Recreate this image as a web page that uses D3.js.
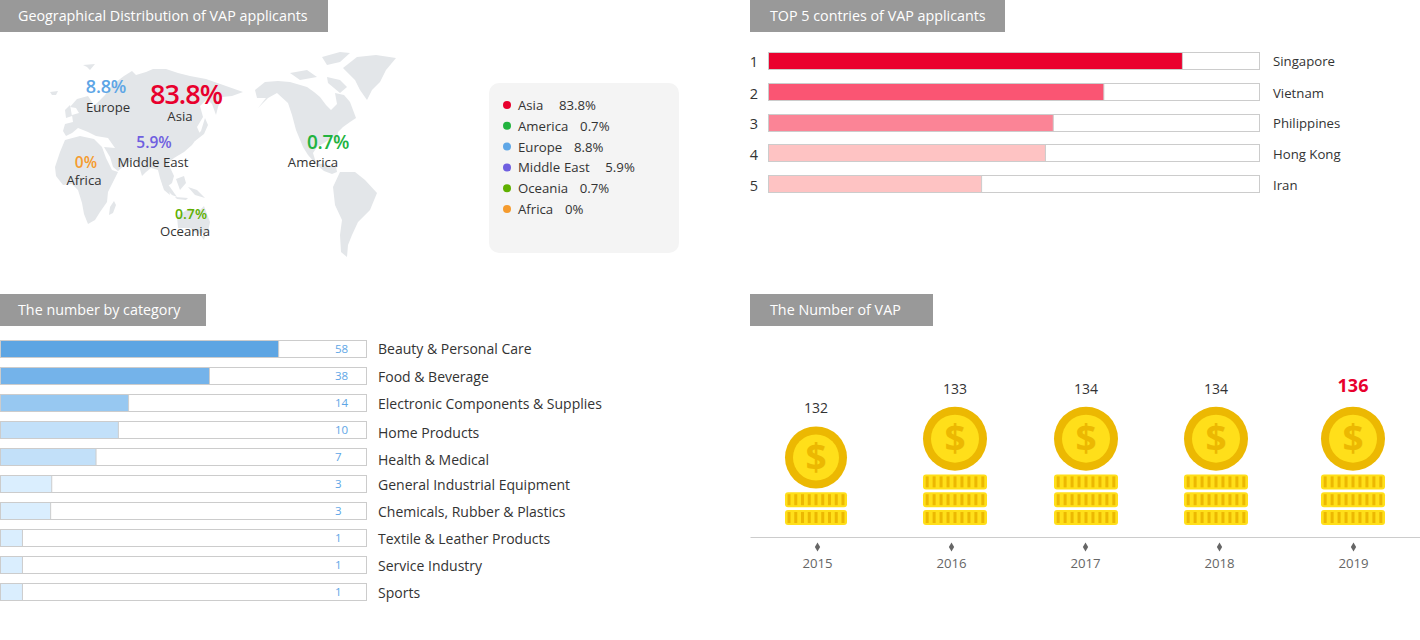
<!DOCTYPE html>
<html>
<head>
<meta charset="utf-8">
<title>VAP applicants</title>
<script src="https://cdn.jsdelivr.net/npm/d3@7"></script>
<style>
  html, body { margin: 0; padding: 0; background: #fff; }
  svg { display: block; }
  text { font-family: "Open Sans", "Noto Sans", sans-serif; fill: #333; }
</style>
</head>
<body>
<div id="chart-area"></div>
<script>
const WIDTH = 1420
const HEIGHT = 640

// section headings
const panelTitles = ["Geographical Distribution of VAP applicants", "TOP 5 contries of VAP applicants", "The number by category", "The Number of VAP"]

// regions
const regions = ["Asia", "America", "Europe", "Middle East", "Oceania", "Africa"]
const regionShares = [83.8, 0.7, 8.8, 5.9, 0.7, 0]
const regionColours = ["#e8002d", "#22b33f", "#5ea6e6", "#6f5fe0", "#5fb000", "#f59b2e"]
const legendGaps = [4, 3, 3, 4, 3, 3]

// top 5 countries, bar length in percent of the track
const countries = ["Singapore", "Vietnam", "Philippines", "Hong Kong", "Iran"]
const countryBars = [84.3, 68.3, 58, 56.4, 43.4]
const countryColours = ["#ea002e", "#fa5573", "#fb8496", "#fec3c3", "#fec3c3"]

// categories, the bars in the picture are not proportional to the counts
const categories = ["Beauty & Personal Care", "Food & Beverage", "Electronic Components & Supplies", "Home Products", "Health & Medical", "General Industrial Equipment", "Chemicals, Rubber & Plastics", "Textile & Leather Products", "Service Industry", "Sports"]
const categoryCounts = [58, 38, 14, 10, 7, 3, 3, 1, 1, 1]
const categoryBars = [76, 57.1, 35, 32.2, 26.1, 14, 13.7, 6, 6, 6]
const categoryColours = ["#5da5e3", "#74b3ea", "#97c8f1", "#c2e0f9", "#c2e0f9", "#daeefe", "#daeefe", "#daeefe", "#daeefe", "#daeefe"]

// yearly number of VAP
const years = ["2015", "2016", "2017", "2018", "2019"]
const yearCounts = [132, 133, 134, 134, 136]
const yearStacks = [2, 3, 3, 3, 3]

// world map outlines
const mapOutlines = [
  // Eurasia
  [[63,131],[65,124],[73,122],[72,115],[79,113],[76,108],[70,107],[77,99],[88,96],[92,102],[88,107],[96,104],[105,95],[112,85],[124,76],[132,71],[136,75],[146,72],[153,69],[166,69],[178,73],[190,76],[206,79],[226,86],[243,92],[232,96],[222,97],[218,107],[216,115],[212,104],[207,99],[200,106],[203,117],[197,127],[200,134],[192,145],[184,152],[174,158],[168,163],[174,176],[172,183],[168,186],[170,195],[164,190],[160,178],[158,170],[151,168],[146,172],[142,176],[139,166],[133,160],[126,164],[118,171],[113,167],[110,157],[104,147],[115,148],[108,138],[96,136],[88,132],[78,128],[72,133],[66,136]],
  // Africa
  [[65,140],[80,136],[94,139],[102,147],[106,158],[112,170],[118,172],[112,184],[108,192],[107,202],[100,212],[95,220],[88,224],[84,214],[82,203],[78,190],[72,184],[63,185],[56,176],[55,167],[60,152]],
  // Madagascar, Sumatra, Indonesia
  [[114,201],[116,205],[113,213],[109,215],[110,207]],
  [[160,175],[170,187],[177,197],[172,195],[163,186]],
  [[176,179],[184,176],[186,183],[180,190]],
  [[188,187],[197,190],[205,198],[195,195]],
  [[175,197],[188,198],[186,200],[177,199]],
  // Japan
  [[205,118],[208,125],[204,134],[195,141],[193,139],[201,131]],
  // Australia
  [[177,216],[190,208],[198,212],[204,206],[210,222],[208,232],[198,234],[190,228],[178,228]],
  [[201,236],[205,236],[204,240]],
  // Iceland, Svalbard, UK
  [[50,92],[58,91],[56,95],[52,95]],
  [[83,65],[95,64],[90,70],[87,67]],
  [[65,110],[70,105],[72,116],[66,118]],
  // North America
  [[255,90],[265,82],[278,81],[290,82],[307,87],[314,92],[320,97],[326,105],[331,110],[337,104],[335,93],[344,95],[350,102],[356,118],[350,122],[343,127],[338,132],[337,143],[333,137],[324,143],[317,147],[313,153],[316,163],[328,165],[336,166],[337,172],[332,174],[324,171],[316,164],[308,155],[303,147],[296,130],[292,115],[288,103],[277,93],[268,98],[258,108],[266,98],[257,98]],
  // South America
  [[333,187],[340,172],[355,172],[365,180],[377,193],[370,210],[358,222],[352,235],[348,245],[347,257],[341,252],[340,235],[342,220],[335,205]],
  // Greenland, Arctic islands
  [[343,68],[357,57],[376,55],[396,58],[386,70],[380,82],[372,90],[367,100],[360,90],[355,80]],
  [[322,57],[340,52],[350,53],[340,62],[327,65]],
  [[290,73],[307,70],[317,77],[300,80]],
  [[327,77],[340,80],[347,87],[340,93],[328,83]]
]

// layout lookups, they only say where things sit in the picture
const regionNameX = d3.scaleOrdinal(regions, [180, 313, 108, 153, 185, 84])
const regionNameY = d3.scaleOrdinal(regions, [121, 167, 112, 167, 236, 185])
const regionValueX = d3.scaleOrdinal(regions, [186, 328, 106, 154, 191, 86])
const regionValueY = d3.scaleOrdinal(regions, [103.5, 149, 93, 148, 219, 168])
const regionValueSize = d3.scaleOrdinal(regions, [27, 19, 18, 15.5, 14, 15.5])
const regionValueTrack = d3.scaleOrdinal(regions, [-1, -0.3, -0.2, 0, 0, 0])
const categoryLabelY = d3.scaleOrdinal(categories, [354, 382, 409, 438, 465, 490, 517, 544, 571, 598])
const countryLabelY = d3.scaleOrdinal(countries, [66, 98, 128, 159, 190])
const coinX = d3.scaleOrdinal(years, [816, 955, 1086, 1216, 1353])

var svg = d3.select("#chart-area").append("svg")
    .attr("width", WIDTH)
    .attr("height", HEIGHT)

//headings
var headings = [{x: 0, y: 0, w: 328, pad: 18}, {x: 750, y: 0, w: 255, pad: 20}, {x: 0, y: 294, w: 206, pad: 18}, {x: 750, y: 294, w: 183, pad: 20}]
headings.forEach(function(h, i){
    svg.append("rect")
        .attr("x", h.x).attr("y", h.y)
        .attr("width", h.w).attr("height", 32)
        .attr("fill", "#999")
    svg.append("text")
        .attr("x", h.x + h.pad).attr("y", h.y + 21)
        .attr("font-size", "14.3px")
        .style("fill", "#fff")
        .text(panelTitles[i])
})

//world map
var mapLine = d3.line().curve(d3.curveLinearClosed)
svg.append("g").selectAll("path").data(mapOutlines).enter().append("path")
    .attr("d", mapLine)
    .attr("fill", "#e3e6e9")

//labels on the map
var mapLabels = svg.append("g").selectAll("g").data(regions).enter().append("g")
mapLabels.append("text")
    .attr("x", function(d){ return regionValueX(d) })
    .attr("y", function(d){ return regionValueY(d) })
    .attr("text-anchor", "middle")
    .attr("font-weight", 600)
    .attr("font-size", function(d){ return regionValueSize(d) + "px" })
    .attr("letter-spacing", function(d){ return regionValueTrack(d) })
    .style("fill", function(d, i){ return regionColours[i] })
    .text(function(d, i){ return regionShares[i] + "%" })
mapLabels.append("text")
    .attr("x", function(d){ return regionNameX(d) })
    .attr("y", function(d){ return regionNameY(d) })
    .attr("text-anchor", "middle")
    .attr("font-size", "13.2px")
    .text(function(d){ return d })

//legend
svg.append("rect")
    .attr("x", 489).attr("y", 83)
    .attr("width", 190).attr("height", 170)
    .attr("rx", 10)
    .attr("fill", "#f4f4f4")
var legendY = d3.scalePoint().domain(regions).range([105, 209])
var legendRows = svg.append("g").selectAll("g").data(regions).enter().append("g")
    .attr("transform", function(d){ return "translate(0," + legendY(d) + ")" })
legendRows.append("circle")
    .attr("cx", 507)
    .attr("r", 4)
    .attr("fill", function(d, i){ return regionColours[i] })
legendRows.append("text")
    .attr("x", 518)
    .attr("y", 5)
    .attr("font-size", "13.2px")
    .attr("word-spacing", 0.5)
    .style("white-space", "pre")
    .text(function(d, i){ return d + " ".repeat(legendGaps[i]) + regionShares[i] + "%" })

//top 5 countries
var countryX = d3.scaleLinear().domain([0, 100]).range([768.5, 1259.5])
var countryY = d3.scalePoint().domain(countries).range([53, 176])
var countryRows = svg.append("g").selectAll("g").data(countries).enter().append("g")
countryRows.append("rect")
    .attr("x", countryX(0))
    .attr("y", function(d){ return Math.round(countryY(d)) - 0.5 })
    .attr("width", countryX(100) - countryX(0))
    .attr("height", 17)
    .attr("fill", "#fff")
    .attr("stroke", "#ccc")
countryRows.append("rect")
    .attr("x", countryX(0))
    .attr("y", function(d){ return Math.round(countryY(d)) - 0.5 })
    .attr("width", function(d, i){ return countryX(countryBars[i]) - countryX(0) })
    .attr("height", 17)
    .attr("fill", function(d, i){ return countryColours[i] })
    .attr("stroke", "#ccc")
countryRows.append("text")
    .attr("x", 754)
    .attr("y", function(d){ return countryLabelY(d) + 1 })
    .attr("text-anchor", "middle")
    .attr("font-size", "14.5px")
    .text(function(d, i){ return i + 1 })
countryRows.append("text")
    .attr("x", 1273)
    .attr("y", function(d){ return countryLabelY(d) })
    .attr("font-size", "13.2px")
    .text(function(d){ return d })

//categories
var categoryX = d3.scaleLinear().domain([0, 100]).range([0.5, 366.5])
var categoryY = d3.scalePoint().domain(categories).range([340.5, 583.5])
var categoryRows = svg.append("g").selectAll("g").data(categories).enter().append("g")
categoryRows.append("rect")
    .attr("x", categoryX(0))
    .attr("y", function(d){ return categoryY(d) })
    .attr("width", categoryX(100) - categoryX(0))
    .attr("height", 17)
    .attr("fill", "#fff")
    .attr("stroke", "#ccc")
categoryRows.append("rect")
    .attr("x", categoryX(0))
    .attr("y", function(d){ return categoryY(d) })
    .attr("width", function(d, i){ return categoryX(categoryBars[i]) - categoryX(0) })
    .attr("height", 17)
    .attr("fill", function(d, i){ return categoryColours[i] })
    .attr("stroke", "#ccc")
categoryRows.append("text")
    .attr("x", 335)
    .attr("y", function(d){ return categoryY(d) + 12.5 })
    .attr("font-size", "11.5px")
    .style("fill", "#5ea6e6")
    .text(function(d, i){ return categoryCounts[i] })
categoryRows.append("text")
    .attr("x", 378)
    .attr("y", function(d){ return categoryLabelY(d) })
    .attr("font-size", "14px")
    .text(function(d){ return d })

//number of VAP per year
var yearX = d3.scalePoint().domain(years).range([750, 1420]).padding(0.5)
var yearAxis = d3.axisBottom(yearX).tickSize(0).tickPadding(22)
var yearAxisGroup = svg.append("g")
    .attr("transform", "translate(0,537)")
    .call(yearAxis)
yearAxisGroup.select(".domain").attr("stroke", "#ccc")
yearAxisGroup.selectAll(".tick text")
    .attr("font-family", null)
    .attr("font-size", "13.2px")
    .style("fill", "#666")
yearAxisGroup.selectAll(".tick").append("path")
    .attr("d", d3.symbol().type(d3.symbolDiamond).size(24))
    .attr("transform", "translate(0,10)")
    .attr("fill", "#666")

const STACK_BOTTOM = 525
const STACK_STEP = 17.8
var coinGroups = svg.append("g").selectAll("g").data(years).enter().append("g")
    .attr("transform", function(d){ return "translate(" + coinX(d) + ",0)" })
coinGroups.each(function(d, i){
    var group = d3.select(this)
    var radius = yearStacks[i] == 2 ? 31 : 32
    var cy = STACK_BOTTOM - 15 - (yearStacks[i] - 1) * STACK_STEP - 3.7 - radius

    d3.range(yearStacks[i]).forEach(function(k){
        var top = STACK_BOTTOM - 15 - k * STACK_STEP
        group.append("rect")
            .attr("x", -radius).attr("y", top)
            .attr("width", radius * 2).attr("height", 15)
            .attr("rx", 3)
            .attr("fill", "#ffdf1a")
        d3.range(9).forEach(function(s){
            group.append("rect")
                .attr("x", (s - 4) * radius * 0.2175 - 1.5).attr("y", top + 2)
                .attr("width", 3).attr("height", 11)
                .attr("fill", "#ecb802")
        })
    })

    group.append("circle").attr("cy", cy).attr("r", radius).attr("fill", "#ecb802")
    group.append("circle").attr("cy", cy).attr("r", radius - 8).attr("fill", "#ffdf1a")
    group.append("text")
        .attr("y", cy + 13)
        .attr("text-anchor", "middle")
        .attr("font-size", "37px")
        .attr("font-weight", 700)
        .style("fill", "#ecb802")
        .text("$")

    var isLatest = i == years.length - 1
    group.append("text")
        .attr("y", isLatest ? 392 : cy - 45)
        .attr("text-anchor", "middle")
        .attr("font-size", isLatest ? "18px" : "14px")
        .attr("font-weight", isLatest ? 700 : 400)
        .style("fill", isLatest ? "#e8002d" : "#333")
        .text(yearCounts[i])
})
</script>
</body>
</html>
